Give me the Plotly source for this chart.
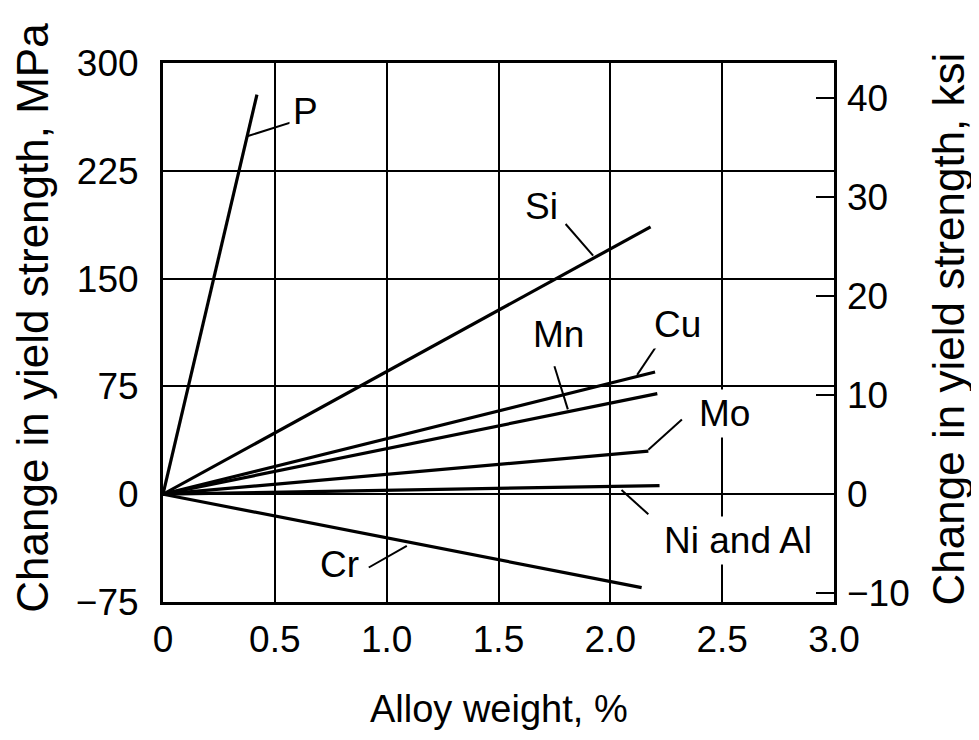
import plotly.graph_objects as go

# ---- data ----
elements = ["P", "Si", "Cu", "Mn", "Mo", "Ni and Al", "Cr"]
start_x = [0, 0, 0, 0, 0, 0, 0]
start_y = [0, 0, 0, 0, 0, 0, 0]
end_x = [0.42, 2.18, 2.20, 2.21, 2.17, 2.22, 2.14]
end_y = [278, 186, 85, 70, 30, 6, -65]

# label text positions (data units) and leader lines (from -> to point on curve)
label_x = [0.635, 1.69, 2.30, 1.77, 2.51, 2.57, 0.79]
label_y = [266, 200, 118, 111, 56, -32, -49]
leader_x0 = [0.64, 1.80, 2.21, 1.75, 2.32, 2.17, 0.92]
leader_y0 = [262, 188, 104, 89, 52, -14, -51]
leader_x1 = [0.376, 1.923, 2.12, 1.81, 2.17, 2.05, 1.09]
leader_y1 = [249, 166, 83, 59, 31, 3, -36]

x_ticks = [0, 0.5, 1.0, 1.5, 2.0, 2.5, 3.0]
x_ticktext = ["0", "0.5", "1.0", "1.5", "2.0", "2.5", "3.0"]
mpa_ticks = [-75, 0, 75, 150, 225, 300]
mpa_ticktext = ["\u221275", "0", "75", "150", "225", "300"]
ksi_ticks = [-10, 0, 10, 20, 30, 40]
ksi_ticktext = ["\u221210", "0", "10", "20", "30", "40"]
MPA_PER_KSI = 6.895

FONT = "Liberation Sans, Arial, Helvetica, sans-serif"

fig = go.Figure()
for i, name in enumerate(elements):
    fig.add_trace(go.Scatter(
        x=[start_x[i], end_x[i]], y=[start_y[i], end_y[i]],
        mode="lines", line=dict(color="black", width=3.2),
        name=name, showlegend=False, hoverinfo="skip"))

# dummy trace for secondary axis
fig.add_trace(go.Scatter(x=[0], y=[0], yaxis="y2", mode="markers",
                         marker=dict(opacity=0), showlegend=False, hoverinfo="skip"))

for i, name in enumerate(elements):
    fig.add_shape(type="line", xref="x", yref="y",
                  x0=leader_x0[i], y0=leader_y0[i], x1=leader_x1[i], y1=leader_y1[i],
                  line=dict(color="black", width=2), layer="above")
    fig.add_annotation(x=label_x[i], y=label_y[i], xref="x", yref="y",
                       text=name, showarrow=False,
                       font=dict(family=FONT, size=37, color="black"),
                       bgcolor="white", borderpad=3)

# page body has an 8px margin, so the figure is sized/offset accordingly
fig.update_layout(
    width=971, height=724,
    margin=dict(l=155, r=145, t=55, b=130, autoexpand=False),
    paper_bgcolor="white", plot_bgcolor="white",
    font=dict(family=FONT, size=37, color="black"),
    xaxis=dict(range=[0, 3], tickvals=x_ticks, ticktext=x_ticktext,
               showgrid=True, gridcolor="black", gridwidth=2,
               showline=True, linecolor="black", linewidth=3, mirror=True,
               ticks="", zeroline=False, ticklabelstandoff=3, automargin=False,
               tickfont=dict(size=37)),
    yaxis=dict(range=[-75, 300], tickvals=mpa_ticks, ticktext=mpa_ticktext,
               showgrid=True, gridcolor="black", gridwidth=2,
               showline=True, linecolor="black", linewidth=3, mirror=True,
               ticks="", zeroline=False, ticklabelstandoff=14, automargin=False,
               tickfont=dict(size=37)),
    yaxis2=dict(range=[-75 / MPA_PER_KSI, 300 / MPA_PER_KSI], overlaying="y", side="right",
                tickvals=ksi_ticks, ticktext=ksi_ticktext, showgrid=False,
                ticks="inside", ticklen=18, tickwidth=2, tickcolor="black",
                showline=False, zeroline=False, ticklabelstandoff=12, automargin=False,
                tickfont=dict(size=37)),
)

fig.add_annotation(xref="paper", yref="paper", x=0.5, y=-0.1985, text="Alloy weight, %",
                   showarrow=False, font=dict(family=FONT, size=38),
                   xanchor="center", yanchor="middle")
fig.add_annotation(xref="paper", yref="paper", x=-0.194, y=0.527,
                   text="Change in yield strength, MPa", textangle=-90,
                   showarrow=False, font=dict(family=FONT, size=44),
                   xanchor="center", yanchor="middle")
fig.add_annotation(xref="paper", yref="paper", x=1.172, y=0.5065,
                   text="Change in yield strength, ksi", textangle=-90,
                   showarrow=False, font=dict(family=FONT, size=44),
                   xanchor="center", yanchor="middle")

fig.write_html("out.html")
